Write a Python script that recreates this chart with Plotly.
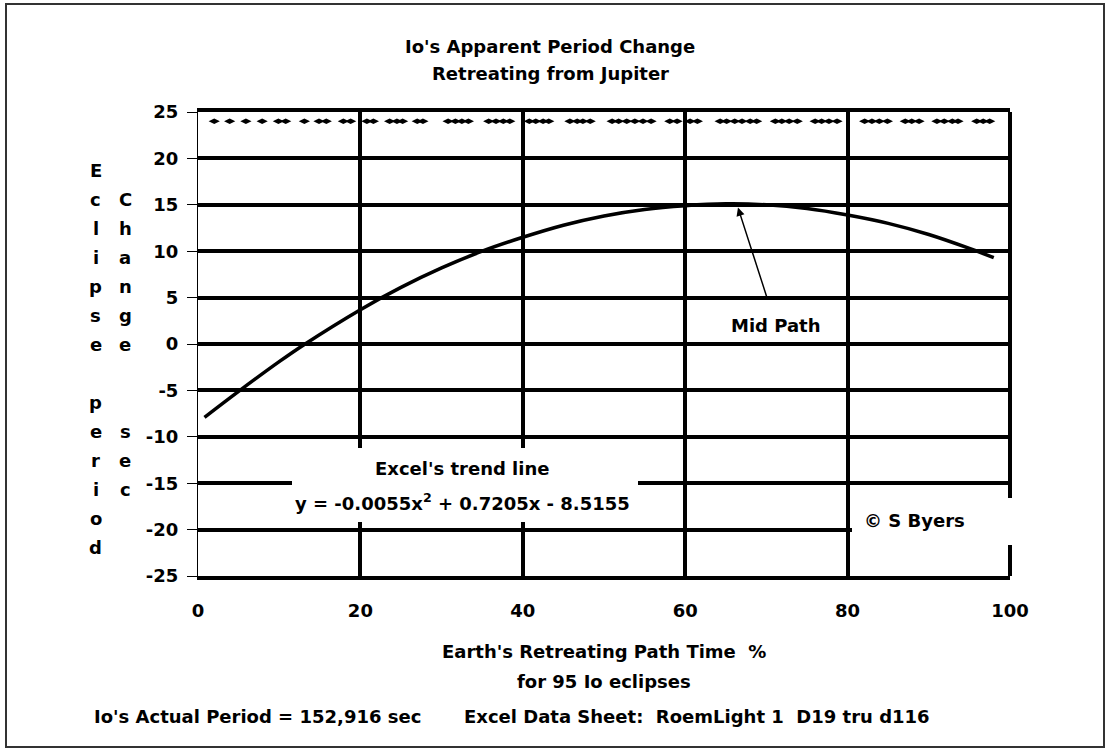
import plotly.graph_objects as go

# ---------------- data ----------------
curve_x = [0.8, 5, 10, 13, 20, 25, 30, 35, 40, 45, 50, 55, 60, 65, 70, 75, 80, 85, 90, 95, 98]
curve_y = [-7.9, -5.1, -1.9, -0.1, 3.7, 6.1, 8.2, 10.0, 11.5, 12.8, 13.8, 14.5, 14.9, 15.1,
           15.0, 14.6, 13.9, 13.0, 11.8, 10.3, 9.3]

eclipse_x = [2.0, 3.9, 5.9, 7.9, 9.9, 10.8, 13.1, 14.9, 15.8, 17.9, 18.8,
             20.8, 21.6, 23.6, 24.5, 25.2, 27.0, 27.7, 30.8, 31.7, 32.5, 33.3,
             35.8, 36.7, 37.6, 38.4,
             40.8, 41.6, 42.5, 43.2, 45.8, 46.7, 47.4, 48.3,
             51.0, 51.8, 52.8, 53.8, 54.8, 55.8, 58.1, 59.0,
             60.6, 61.5, 64.3, 65.1, 66.1, 67.0, 68.0, 68.8,
             71.1, 71.9, 72.8, 73.8, 76.0, 76.8, 77.7, 78.7,
             82.1, 83.0, 83.9, 84.9, 87.1, 87.9, 88.8,
             91.0, 91.9, 92.9, 93.6, 95.9, 96.7, 97.5]
eclipse_level = 24

x_ticks = [0, 20, 40, 60, 80, 100]
x_ticktext = ["0", "20", "40", "60", "80", "100"]
x_grid = [20, 40, 60, 80]
y_ticks = [-25, -20, -15, -10, -5, 0, 5, 10, 15, 20, 25]
y_ticktext = ["-25", "-20", "-15", "-10", "-5", "0", "5", "10", "15", "20", "25"]
y_grid = [-20, -15, -10, -5, 0, 5, 10, 15, 20]

title_lines = ["Io's Apparent Period Change", "Retreating from Jupiter"]
xtitle_lines = ["Earth's Retreating Path Time  %", "for 95 Io eclipses"]
ytitle_col1 = ["E", "c", "l", "i", "p", "s", "e", "", "p", "e", "r", "i", "o", "d"]
ytitle_col2 = ["", "C", "h", "a", "n", "g", "e", "", "", "s", "e", "c", "", ""]
trend_lines = ["Excel's trend line", "y = -0.0055x<sup>2</sup> + 0.7205x - 8.5155"]
footer_left = "Io's Actual Period = 152,916 sec"
footer_right = "Excel Data Sheet:\u00a0 RoemLight 1\u00a0 D19 tru d116"
credit = "\u00a9 S Byers"
mid_label = "Mid Path"
mid_point = (66.5, 14.7)

# ---------------- layout geometry ----------------
W, H = 1112, 753
L, R, T, B = 198, 1010, 112, 576


def px(x):
    return (x - L) / (R - L)


def py(y):
    return (B - y) / (B - T)


FONT = dict(family="DejaVu Sans", size=18, color="black", weight="bold")

fig = go.Figure()
fig.add_trace(go.Scatter(x=curve_x, y=curve_y, mode="lines",
                         line=dict(color="black", width=3.5, shape="spline"),
                         showlegend=False, hoverinfo="skip"))
fig.add_trace(go.Scatter(x=eclipse_x, y=[eclipse_level] * len(eclipse_x), mode="markers",
                         marker=dict(symbol="diamond-wide", size=8, color="black"),
                         showlegend=False))

annotations = []
for i, t in enumerate(title_lines):
    annotations.append(dict(text=t, x=px(550), y=py(47 + 26 * i), xref="paper", yref="paper",
                            xanchor="center", yanchor="middle", showarrow=False, font=FONT))
for i, t in enumerate(xtitle_lines):
    annotations.append(dict(text=t, x=px(604), y=py(651 + 30 * i), xref="paper", yref="paper",
                            xanchor="center", yanchor="middle", showarrow=False, font=FONT))
for i, (c1, c2) in enumerate(zip(ytitle_col1, ytitle_col2)):
    yy = py(170 + 29 * i)
    if c1:
        annotations.append(dict(text=c1, x=px(96), y=yy, xref="paper", yref="paper",
                                xanchor="center", yanchor="middle", showarrow=False, font=FONT))
    if c2:
        annotations.append(dict(text=c2, x=px(125), y=yy, xref="paper", yref="paper",
                                xanchor="center", yanchor="middle", showarrow=False, font=FONT))
for i, t in enumerate(trend_lines):
    annotations.append(dict(text=t, x=px(462), y=py(468 + 34 * i), xref="paper", yref="paper",
                            xanchor="center", yanchor="middle", showarrow=False, font=FONT))
annotations.append(dict(text=footer_left, x=px(92), y=py(716), xref="paper", yref="paper",
                        xanchor="left", yanchor="middle", showarrow=False, font=FONT))
annotations.append(dict(text=footer_right, x=px(462), y=py(716), xref="paper", yref="paper",
                        xanchor="left", yanchor="middle", showarrow=False, font=FONT))
annotations.append(dict(text=credit, x=px(914), y=py(520), xref="paper", yref="paper",
                        xanchor="center", yanchor="middle", showarrow=False, font=FONT))
annotations.append(dict(text=mid_label, x=mid_point[0], y=mid_point[1], xref="x", yref="y",
                        ax=38, ay=118, showarrow=True, arrowhead=2, arrowsize=1.1,
                        arrowwidth=1.5, arrowcolor="black", startstandoff=18, font=FONT))

shapes = [
    # right frame edge
    dict(type="line", xref="paper", yref="paper", x0=1, x1=1, y0=0, y1=1,
         line=dict(color="black", width=4), layer="above"),
    # white label boxes
    dict(type="rect", xref="paper", yref="paper", x0=px(292), x1=px(638), y0=py(522), y1=py(448),
         fillcolor="white", line=dict(width=0), layer="above"),
    dict(type="rect", xref="paper", yref="paper", x0=px(852), x1=px(1014), y0=py(545), y1=py(498),
         fillcolor="white", line=dict(width=0), layer="above"),
    # outer picture frame
    dict(type="rect", xref="paper", yref="paper", x0=px(6), x1=px(1104), y0=py(747), y1=py(4),
         line=dict(color="#333333", width=2), fillcolor="rgba(0,0,0,0)", layer="above"),
]

fig.update_layout(
    width=W, height=H,
    margin=dict(l=L, r=W - R, t=T, b=H - B),
    paper_bgcolor="white", plot_bgcolor="white",
    showlegend=False,
    annotations=annotations, shapes=shapes,
    xaxis=dict(range=[0, 100], tickmode="array", tickvals=x_ticks, ticktext=x_ticktext,
               showgrid=False, zeroline=False, fixedrange=True,
               minor=dict(tickmode="array", tickvals=x_grid, showgrid=True,
                          gridcolor="black", gridwidth=4, ticks=""),
               showline=True, mirror=True, linecolor="black", linewidth=4,
               ticks="outside", ticklen=15, tickcolor="rgba(0,0,0,0)",
               tickfont=FONT),
    yaxis=dict(range=[-25, 25], tickmode="array", tickvals=y_ticks, ticktext=y_ticktext,
               showgrid=False, zeroline=False, fixedrange=True,
               minor=dict(tickmode="array", tickvals=y_grid, showgrid=True,
                          gridcolor="black", gridwidth=4, ticks=""),
               showline=True, mirror=False, linecolor="black", linewidth=1,
               ticks="outside", ticklen=10, tickwidth=1, tickcolor="black",
               ticklabelstandoff=5, tickfont=FONT),
)

fig.write_html("out.html",
               config={"displayModeBar": False, "displaylogo": False},
               post_script="document.body.style.margin='0';document.body.style.overflow='hidden';")
